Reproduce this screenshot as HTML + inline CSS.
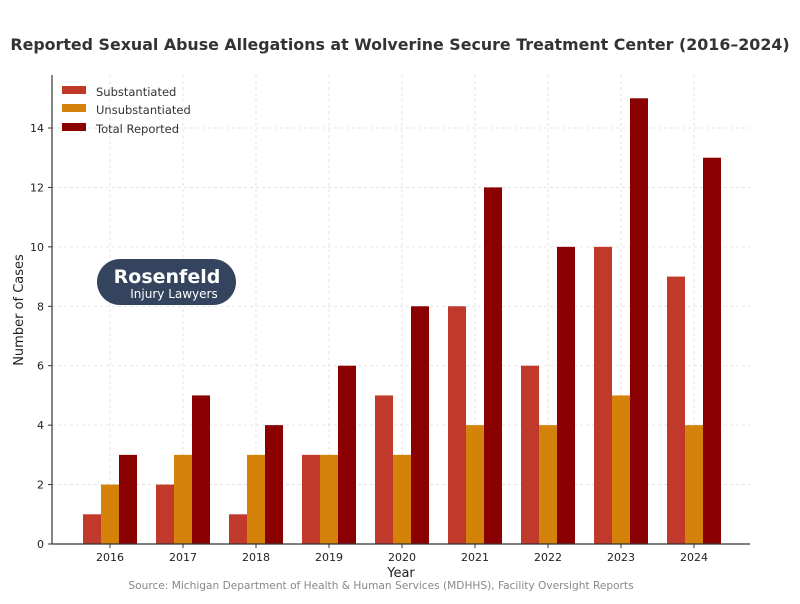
<!DOCTYPE html>
<html><head><meta charset="utf-8"><style>
body{margin:0;background:#fff;font-family:"DejaVu Sans","Liberation Sans",sans-serif;}
</style></head><body>
<svg id="c" width="800" height="600" xmlns="http://www.w3.org/2000/svg">
<text x="400" y="50" text-anchor="middle" font-size="15.85" font-weight="bold" fill="#333">Reported Sexual Abuse Allegations at Wolverine Secure Treatment Center (2016–2024)</text>
<g id="grid"></g><g id="bars"></g><g id="axes"></g>
<text x="401" y="577" text-anchor="middle" font-size="13" fill="#222">Year</text>
<text transform="translate(23,310) rotate(-90)" text-anchor="middle" font-size="13" fill="#222">Number of Cases</text>
<text x="381" y="589" text-anchor="middle" font-size="10.6" fill="#888">Source: Michigan Department of Health &amp; Human Services (MDHHS), Facility Oversight Reports</text>
<g font-size="11.5" fill="#333">
<rect x="62" y="86" width="24" height="8" fill="#c0392b"/><text x="96" y="96">Substantiated</text>
<rect x="62" y="104" width="24" height="8" fill="#d4820a"/><text x="96" y="114">Unsubstantiated</text>
<rect x="62" y="123" width="24" height="8" fill="#8b0000"/><text x="96" y="133">Total Reported</text>
</g>
<g>
<rect x="97" y="259" width="139" height="46" rx="23" fill="#34435e"/>
<text x="167" y="283" text-anchor="middle" font-size="19" font-weight="bold" fill="#fff">Rosenfeld</text>
<text x="174" y="298" text-anchor="middle" font-size="12" fill="#fff">Injury Lawyers</text>
</g>
</svg>
<script>
const years=["2016","2017","2018","2019","2020","2021","2022","2023","2024"];
const substantiated=[1,2,1,3,5,8,6,10,9];
const unsubstantiated=[2,3,3,3,3,4,4,5,4];
const totalReported=[3,5,4,6,8,12,10,15,13];
const yTicks=[0,2,4,6,8,10,12,14];
const NS="http://www.w3.org/2000/svg";
const x0=52,x1=750,y0=544,unit=(544-128)/14;
const xs=i=>110+i*73;
const ys=v=>y0-v*unit;
function mk(t,a,p){const e=document.createElementNS(NS,t);for(const k in a)e.setAttribute(k,a[k]);p.appendChild(e);return e;}
const grid=document.getElementById('grid'),bars=document.getElementById('bars'),axes=document.getElementById('axes');
yTicks.forEach(v=>{
 const y=ys(v);
 const g=mk('line',{x1:x0,x2:x1,y1:y,y2:y,stroke:'#ddd','stroke-dasharray':'3,3','stroke-width':0.8},grid);
 
 
 mk('line',{x1:x0-4,x2:x0,y1:y,y2:y,stroke:'#333'},axes);
 const t=mk('text',{x:x0-8,y:y+4,'text-anchor':'end','font-size':11,fill:'#222'},axes);t.textContent=v;
 
 
});
years.forEach((yr,i)=>{
 const cx=xs(i);
 const g=mk('line',{x1:cx,x2:cx,y1:75,y2:y0,stroke:'#ddd','stroke-dasharray':'3,3','stroke-width':0.8},grid);
 
 
 mk('line',{x1:cx,x2:cx,y1:y0,y2:y0+4,stroke:'#333'},axes);
 const t=mk('text',{x:cx,y:y0+17,'text-anchor':'middle','font-size':11,fill:'#222'},axes);t.textContent=yr;
 
 
 [[substantiated,'#c0392b',-27,'substantiated'],[unsubstantiated,'#d4820a',-9,'unsubstantiated'],[totalReported,'#8b0000',9,'total-reported']].forEach(([arr,col,off,nm])=>{
  const b=mk('rect',{x:cx+off,y:ys(arr[i]),width:18,height:arr[i]*unit,fill:col},bars);
  
  
 });
});
mk('line',{x1:x0,x2:x0,y1:75,y2:y0,stroke:'#333','stroke-width':1.2},axes);
mk('line',{x1:x0,x2:x1,y1:y0,y2:y0,stroke:'#333','stroke-width':1.2},axes);
</script>
</body></html>
